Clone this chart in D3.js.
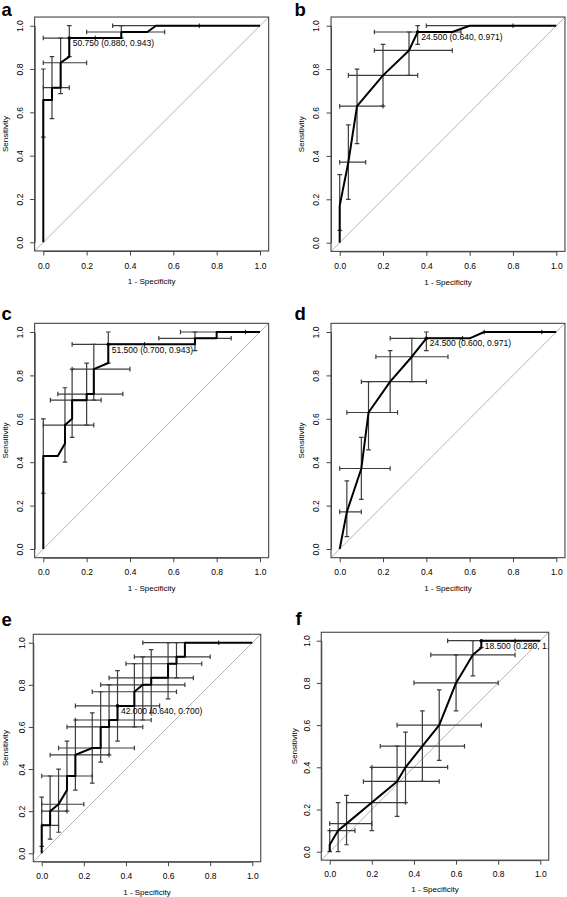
<!DOCTYPE html>
<html>
<head>
<meta charset="utf-8">
<script src="https://cdn.jsdelivr.net/npm/d3@7/dist/d3.min.js"></script>
<style>
  html, body { margin: 0; padding: 0; background: #fff; }
  svg { display: block; font-family: "Liberation Sans", Arial, sans-serif; }
</style>
</head>
<body>
<svg id="chart" width="567" height="897"></svg>
<script>
// ---------------- DATA ----------------
const panelIds = ["a", "b", "c", "d", "e", "f"];
const xTicks = [0, 0.2, 0.4, 0.6, 0.8, 1.0];
const yTicks = [0, 0.2, 0.4, 0.6, 0.8, 1.0];
const xTitle = "1 - Specificity";
const yTitle = "Sensitivity";

// ROC curves (1 - specificity, sensitivity)
const rocX_a = [0, 0, 0.04, 0.04, 0.08, 0.08, 0.12, 0.12, 0.36, 0.36, 0.48, 0.52, 1.0];
const rocY_a = [0, 0.657, 0.657, 0.714, 0.714, 0.829, 0.857, 0.943, 0.943, 0.971, 0.971, 1.0, 1.0];
const rocX_b = [0, 0, 0.04, 0.08, 0.2, 0.32, 0.36, 0.52, 0.6, 1.0];
const rocY_b = [0, 0.171, 0.371, 0.629, 0.771, 0.886, 0.971, 0.971, 1.0, 1.0];
const rocX_c = [0, 0, 0.067, 0.1, 0.1, 0.133, 0.133, 0.2, 0.2, 0.233, 0.233, 0.3, 0.3, 0.7, 0.7, 0.8, 0.8, 1.0];
const rocY_c = [0, 0.429, 0.429, 0.486, 0.571, 0.6, 0.686, 0.686, 0.714, 0.714, 0.829, 0.857, 0.943, 0.943, 0.971, 0.971, 1.0, 1.0];
const rocX_d = [0, 0.033, 0.1, 0.133, 0.233, 0.333, 0.4, 0.6, 0.667, 1.0];
const rocY_d = [0, 0.171, 0.371, 0.629, 0.771, 0.886, 0.971, 0.971, 1.0, 1.0];
const rocX_e = [0, 0, 0.04, 0.04, 0.08, 0.12, 0.12, 0.16, 0.16, 0.24, 0.28, 0.28, 0.32, 0.32, 0.36, 0.36, 0.44, 0.44, 0.48, 0.52, 0.52, 0.6, 0.6, 0.64, 0.64, 0.68, 0.68, 1.0];
const rocY_e = [0, 0.133, 0.133, 0.2, 0.233, 0.3, 0.367, 0.367, 0.467, 0.5, 0.5, 0.6, 0.6, 0.633, 0.633, 0.7, 0.7, 0.767, 0.8, 0.8, 0.833, 0.833, 0.9, 0.9, 0.933, 0.933, 1.0, 1.0];
const rocX_f = [0, 0, 0.04, 0.08, 0.2, 0.32, 0.36, 0.44, 0.52, 0.6, 0.68, 0.72, 0.72, 1.0];
const rocY_f = [0, 0.033, 0.1, 0.133, 0.233, 0.333, 0.4, 0.5, 0.6, 0.8, 0.933, 0.967, 1.0, 1.0];

// threshold CIs: [x, y, xLow, xHigh, yLow, yHigh]
const ci_a = [
  [0, 0.657, 0, 0, 0.486, 0.8],
  [0.04, 0.714, 0, 0.12, 0.571, 0.857],
  [0.08, 0.829, 0, 0.2, 0.686, 0.943],
  [0.12, 0.943, 0, 0.24, 0.857, 1.0],
  [0.36, 0.971, 0.2, 0.56, 0.943, 1.0],
  [0.52, 1.0, 0.32, 0.72, 1.0, 1.0]
];
const ci_b = [
  [0, 0.171, 0, 0, 0.057, 0.314],
  [0.04, 0.371, 0, 0.12, 0.2, 0.543],
  [0.08, 0.629, 0, 0.2, 0.457, 0.8],
  [0.2, 0.771, 0.04, 0.36, 0.629, 0.914],
  [0.32, 0.886, 0.16, 0.52, 0.771, 0.971],
  [0.36, 0.971, 0.16, 0.56, 0.914, 1.0],
  [0.6, 1.0, 0.4, 0.8, 1.0, 1.0]
];
const ci_c = [
  [0, 0.429, 0, 0, 0.257, 0.6],
  [0.1, 0.571, 0, 0.233, 0.4, 0.743],
  [0.133, 0.686, 0.033, 0.267, 0.514, 0.829],
  [0.2, 0.714, 0.067, 0.367, 0.571, 0.857],
  [0.233, 0.829, 0.133, 0.4, 0.686, 0.943],
  [0.3, 0.943, 0.133, 0.467, 0.857, 1.0],
  [0.7, 0.971, 0.533, 0.867, 0.914, 1.0],
  [0.8, 1.0, 0.633, 0.933, 1.0, 1.0]
];
const ci_d = [
  [0.033, 0.171, 0, 0.1, 0.057, 0.314],
  [0.1, 0.371, 0, 0.233, 0.229, 0.514],
  [0.133, 0.629, 0.033, 0.267, 0.457, 0.771],
  [0.233, 0.771, 0.1, 0.4, 0.629, 0.914],
  [0.333, 0.886, 0.167, 0.5, 0.771, 0.971],
  [0.4, 0.971, 0.233, 0.567, 0.914, 1.0],
  [0.8, 1.0, 0.667, 0.933, 1.0, 1.0]
];
const ci_e = [
  [0, 0.133, 0, 0.08, 0.033, 0.267],
  [0.04, 0.2, 0, 0.12, 0.067, 0.367],
  [0.08, 0.233, 0, 0.2, 0.1, 0.4],
  [0.12, 0.367, 0, 0.24, 0.2, 0.533],
  [0.16, 0.467, 0.04, 0.32, 0.3, 0.633],
  [0.24, 0.5, 0.08, 0.44, 0.333, 0.667],
  [0.28, 0.6, 0.12, 0.48, 0.433, 0.767],
  [0.32, 0.633, 0.16, 0.52, 0.467, 0.8],
  [0.36, 0.7, 0.16, 0.56, 0.533, 0.867],
  [0.44, 0.767, 0.24, 0.64, 0.6, 0.9],
  [0.48, 0.8, 0.28, 0.68, 0.633, 0.933],
  [0.52, 0.833, 0.32, 0.72, 0.667, 0.967],
  [0.6, 0.9, 0.4, 0.76, 0.733, 1.0],
  [0.64, 0.933, 0.44, 0.8, 0.833, 1.0],
  [0.68, 1.0, 0.48, 0.84, 1.0, 1.0]
];
const ci_f = [
  [0, 0.033, 0, 0, 0, 0.1],
  [0.04, 0.1, 0, 0.12, 0, 0.233],
  [0.08, 0.133, 0, 0.2, 0.033, 0.267],
  [0.2, 0.233, 0.08, 0.36, 0.1, 0.4],
  [0.32, 0.333, 0.16, 0.52, 0.167, 0.5],
  [0.36, 0.4, 0.2, 0.56, 0.233, 0.567],
  [0.44, 0.5, 0.24, 0.64, 0.333, 0.667],
  [0.52, 0.6, 0.32, 0.72, 0.433, 0.767],
  [0.6, 0.8, 0.4, 0.8, 0.667, 0.933],
  [0.68, 0.933, 0.48, 0.88, 0.833, 1.0],
  [0.72, 1.0, 0.56, 0.88, 0.967, 1.0]
];

// best thresholds
const bestX = [0.12, 0.36, 0.3, 0.4, 0.36, 0.72];
const bestY = [0.943, 0.971, 0.943, 0.971, 0.7, 1.0];
const bestLabels = [
  "50.750 (0.880, 0.943)",
  "24.500 (0.640, 0.971)",
  "51.500 (0.700, 0.943)",
  "24.500 (0.600, 0.971)",
  "42.000 (0.640, 0.700)",
  "18.500 (0.280, 1.000)"
];

const rocXs = [rocX_a, rocX_b, rocX_c, rocX_d, rocX_e, rocX_f];
const rocYs = [rocY_a, rocY_b, rocY_c, rocY_d, rocY_e, rocY_f];
const cis = [ci_a, ci_b, ci_c, ci_d, ci_e, ci_f];

// ---------------- LAYOUT ----------------
const layout = [
  { x0: 43.3, x1: 260.0, y0: 242.3, y1: 25.7, lx: 1.5, ly: 16, yl: 14.5, yt: 29.5, xl: 15, xt: 30.5 },
  { x0: 339.7, x1: 556.3, y0: 242.7, y1: 25.7, lx: 294.5, ly: 16, yl: 15.5, yt: 30.5, xl: 15, xt: 30.5 },
  { x0: 43.3, x1: 260.0, y0: 549.0, y1: 332.0, lx: 1.5, ly: 320, yl: 14.5, yt: 29.5, xl: 14, xt: 30 },
  { x0: 339.7, x1: 556.3, y0: 549.0, y1: 332.0, lx: 294.5, ly: 320, yl: 15.5, yt: 30.5, xl: 14, xt: 30 },
  { x0: 41.7, x1: 252.3, y0: 853.3, y1: 642.7, lx: 1.5, ly: 626, yl: 11.5, yt: 28.5, xl: 14.5, xt: 30 },
  { x0: 329.7, x1: 540.3, y0: 851.7, y1: 640.7, lx: 295.5, ly: 625, yl: 14.5, yt: 27.5, xl: 14, xt: 29 }
];

const svg = d3.select("#chart");
svg.append("rect").attr("width", 567).attr("height", 897).attr("fill", "#fff");

const fmt = d3.format(".1f");
const cap = 2.3;

panelIds.forEach((id, i) => {
  const L = layout[i];
  const x = d3.scaleLinear().domain([0, 1]).range([L.x0, L.x1]);
  const y = d3.scaleLinear().domain([0, 1]).range([L.y0, L.y1]);
  const bx0 = x(-0.04), bx1 = x(1.04), by0 = y(-0.04), by1 = y(1.04);
  const g = svg.append("g");

  const clipId = "clip-" + id;
  g.append("clipPath").attr("id", clipId)
    .append("rect").attr("x", bx0).attr("y", by1).attr("width", bx1 - bx0).attr("height", by0 - by1);

  const inner = g.append("g").attr("clip-path", `url(#${clipId})`);

  // diagonal reference
  inner.append("line")
    .attr("x1", x(-0.04)).attr("y1", y(-0.04)).attr("x2", x(1.04)).attr("y2", y(1.04))
    .attr("stroke", "#b4b4b4").attr("stroke-width", 1);

  // error bars
  const eb = inner.append("g").attr("stroke", "#3c3c3c").attr("stroke-width", 1.2).attr("fill", "none");
  cis[i].forEach(c => {
    const [cx, cy, xlo, xhi, ylo, yhi] = c;
    if (yhi > ylo) {
      eb.append("line").attr("x1", x(cx)).attr("x2", x(cx)).attr("y1", y(ylo)).attr("y2", y(yhi));
      eb.append("line").attr("x1", x(cx) - cap).attr("x2", x(cx) + cap).attr("y1", y(ylo)).attr("y2", y(ylo));
      eb.append("line").attr("x1", x(cx) - cap).attr("x2", x(cx) + cap).attr("y1", y(yhi)).attr("y2", y(yhi));
    }
    if (xhi > xlo) {
      eb.append("line").attr("x1", x(xlo)).attr("x2", x(xhi)).attr("y1", y(cy)).attr("y2", y(cy));
      eb.append("line").attr("x1", x(xlo)).attr("x2", x(xlo)).attr("y1", y(cy) - cap).attr("y2", y(cy) + cap);
      eb.append("line").attr("x1", x(xhi)).attr("x2", x(xhi)).attr("y1", y(cy) - cap).attr("y2", y(cy) + cap);
    }
  });

  // ROC curve
  const pts = rocXs[i].map((v, k) => [v, rocYs[i][k]]);
  inner.append("path")
    .attr("d", d3.line().x(d => x(d[0])).y(d => y(d[1]))(pts))
    .attr("fill", "none").attr("stroke", "#000").attr("stroke-width", 2)
    .attr("stroke-linejoin", "round");

  // best threshold
  inner.append("circle").attr("cx", x(bestX[i])).attr("cy", y(bestY[i])).attr("r", 1.8).attr("fill", "#000");
  inner.append("text")
    .attr("x", x(bestX[i]) + 3.5).attr("y", y(bestY[i]) + 8.2)
    .attr("font-size", 8.5).attr("fill", "#000")
    .text(bestLabels[i]);

  // box
  g.append("rect").attr("x", bx0).attr("y", by1).attr("width", bx1 - bx0).attr("height", by0 - by1)
    .attr("fill", "none").attr("stroke", "#444").attr("stroke-width", 1.1);

  // x axis
  const xa = g.append("g").attr("transform", `translate(0,${by0})`)
    .call(d3.axisBottom(x).tickValues(xTicks).tickFormat(fmt).tickSize(4.5).tickSizeOuter(0));
  xa.select(".domain").attr("stroke", "#444");
  xa.selectAll(".tick line").attr("stroke", "#444");
  xa.selectAll(".tick text").attr("y", L.xl + 3).attr("dy", 0)
    .attr("font-size", 8.5).attr("fill", "#000").attr("font-family", "Liberation Sans, Arial, sans-serif");

  // y axis
  const ya = g.append("g").attr("transform", `translate(${bx0},0)`)
    .call(d3.axisLeft(y).tickValues(yTicks).tickFormat(fmt).tickSize(4.5).tickSizeOuter(0));
  ya.select(".domain").attr("stroke", "#444");
  ya.selectAll(".tick line").attr("stroke", "#444");
  ya.selectAll(".tick text")
    .attr("x", null).attr("dy", 0)
    .attr("transform", `translate(${-L.yl + 3},0) rotate(-90)`)
    .attr("text-anchor", "middle")
    .attr("font-size", 8.5).attr("fill", "#000").attr("font-family", "Liberation Sans, Arial, sans-serif");

  // titles
  g.append("text")
    .attr("x", (bx0 + bx1) / 2).attr("y", by0 + L.xt + 3)
    .attr("text-anchor", "middle").attr("font-size", 8).attr("fill", "#000")
    .text(xTitle);
  g.append("text")
    .attr("transform", `translate(${bx0 - L.yt + 3},${(by0 + by1) / 2}) rotate(-90)`)
    .attr("text-anchor", "middle").attr("font-size", 8).attr("fill", "#000")
    .text(yTitle);

  // panel letter
  g.append("text").attr("x", L.lx).attr("y", L.ly)
    .attr("font-size", 18.5).attr("font-weight", "bold").attr("fill", "#000")
    .text(id);
});
</script>
</body>
</html>
